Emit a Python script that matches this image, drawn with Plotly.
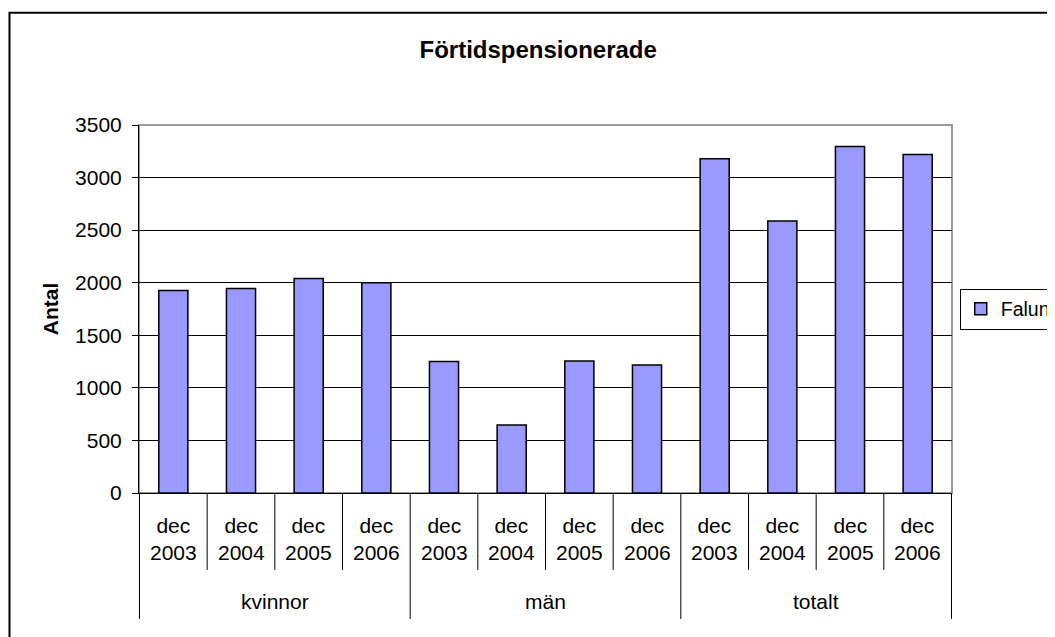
import plotly.graph_objects as go

# ---- data ----
groups = ["kvinnor", "män", "totalt"]
periods = ["dec 2003", "dec 2004", "dec 2005", "dec 2006"]
series_name = "Falun"
values_kvinnor = [1925, 1944, 2039, 2000]
values_man = [1250, 647, 1256, 1218]
values_totalt = [3178, 2588, 3295, 3219]
y_ticks = [0, 500, 1000, 1500, 2000, 2500, 3000, 3500]

values = values_kvinnor + values_man + values_totalt
categories = [f"{g} {p}" for g in groups for p in periods]

FONT = "Liberation Sans, Arial, sans-serif"

fig = go.Figure()
fig.add_trace(go.Bar(
    x=categories, y=values, name=series_name,
    marker=dict(color="#9999FF", line=dict(color="black", width=1.5)),
    showlegend=True,
))

# plot-area frame (gray top/right)
shapes = [dict(type="rect", xref="paper", yref="paper", x0=0, x1=1, y0=0, y1=1,
               line=dict(color="#999999", width=2), layer="below")]
# outer chart frame
shapes.append(dict(type="rect", xref="paper", yref="paper", x0=-0.1593, x1=1.3,
                   y0=-0.6, y1=1.305, line=dict(color="black", width=2), layer="below"))

n = len(categories)
per = len(periods)
for b in range(n + 1):
    outer = (b % per == 0)
    shapes.append(dict(type="line", xref="x", yref="paper", x0=b - 0.5, x1=b - 0.5,
                       y0=0, y1=-0.3424 if outer else -0.209,
                       line=dict(color="black", width=1)))

annotations = []
for i, c in enumerate(categories):
    p = periods[i % per]
    annotations.append(dict(x=c, xref="x", y=-0.125, yref="paper", yanchor="middle",
                            text=p.replace(" ", "<br>"), showarrow=False,
                            font=dict(family=FONT, size=21, color="black")))
for gi, g in enumerate(groups):
    mid = gi * per + (per - 1) / 2
    annotations.append(dict(x=mid, xref="x", y=-0.2954, yref="paper", yanchor="middle",
                            text=g, showarrow=False,
                            font=dict(family=FONT, size=21, color="black")))

fig.update_layout(
    width=1047, height=629,
    margin=dict(l=131, r=103, t=117, b=144, autoexpand=False),
    paper_bgcolor="white", plot_bgcolor="white",
    font=dict(family=FONT, size=21, color="black"),
    title=dict(text="<b>Förtidspensionerade</b>", x=0.491, xref="paper", xanchor="center",
               y=1 - 42 / 629, yref="container", yanchor="middle",
               font=dict(family=FONT, size=24, color="black")),
    bargap=0.57,
    showlegend=True,
    legend=dict(x=1.0095, xanchor="left", y=0.5, yanchor="middle",
                bgcolor="white", bordercolor="black", borderwidth=1,
                font=dict(family=FONT, size=19.5, color="black")),
    shapes=shapes,
    annotations=annotations,
)
fig.update_xaxes(type="category", showticklabels=False, ticks="", showgrid=False,
                 showline=True, linecolor="black", linewidth=1, zeroline=False)
fig.update_yaxes(range=[0, 3500], tickvals=y_ticks, showgrid=True, gridcolor="black",
                 gridwidth=1, showline=True, linecolor="black", linewidth=1,
                 ticks="outside", ticklen=6, tickcolor="black", zeroline=False,
                 tickfont=dict(family=FONT, size=21, color="black"),
                 ticklabelstandoff=6,
                 title=dict(text="<b>Antal</b>", standoff=10,
                            font=dict(family=FONT, size=21, color="black")))

fig.write_html("out.html")
